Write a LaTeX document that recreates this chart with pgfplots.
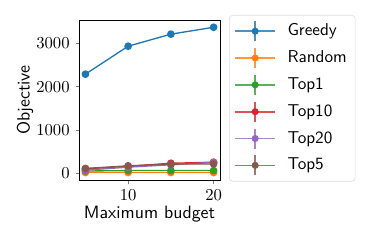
\documentclass[border=0pt]{standalone}
\usepackage{pgfplots}
\pgfplotsset{compat=1.18}
\definecolor{c0}{HTML}{1F77B4}
\definecolor{c1}{HTML}{FF7F0E}
\definecolor{c2}{HTML}{2CA02C}
\definecolor{c3}{HTML}{D62728}
\definecolor{c4}{HTML}{9467BD}
\definecolor{c5}{HTML}{8C564B}
\begin{document}
\begin{tikzpicture}
\begin{axis}[
  width=84.6pt, height=96pt, scale only axis,
  xmin=4.25, xmax=20.75, ymin=-169, ymax=3549,
  xtick={10,20}, ytick={0,1000,2000,3000},
  tick align=outside, tick pos=left,
  major tick length=2.1pt,
  scaled y ticks=false,
  tick label style={font=\fontsize{10.2}{12}\selectfont},
  yticklabel style={/pgf/number format/1000 sep={}},
  label style={font=\fontsize{10.7}{13}\selectfont\sffamily},
  xlabel={Maximum budget}, ylabel={Objective},
  xlabel style={yshift=3pt}, ylabel style={yshift=-5pt},
  every axis plot/.append style={line width=0.8pt, mark=*, mark size=1.9pt},
  legend cell align=left,
  legend style={at={(1,1)}, anchor=north west, xshift=5.4pt, yshift=3pt,
    draw=black!13, rounded corners=2pt, font=\fontsize{10.3}{12.4}\selectfont\sffamily,
    row sep=3.1pt, inner xsep=3pt, inner ysep=3pt},
  legend image code/.code={
    \draw[#1,mark=none,line width=1pt,opacity=0.8] (0pt,0pt) -- (24pt,0pt);
    \draw[#1,mark=none,line width=1pt,opacity=0.8] (12pt,-6pt) -- (12pt,6pt);
    \fill[#1] (12pt,0pt) circle (1.7pt);
    \path (29pt,0pt);
  },
]
\addplot[c0, mark options={fill=c0}] coordinates {(5,2290) (10,2940) (15,3220) (20,3380)};
\addlegendentry{Greedy}
\addplot[c1, mark options={fill=c1}] coordinates {(5,5) (10,5) (15,5) (20,5)};
\addlegendentry{Random}
\addplot[c2, mark options={fill=c2}] coordinates {(5,40) (10,50) (15,50) (20,50)};
\addlegendentry{Top1}
\addplot[c3, mark options={fill=c3}] coordinates {(5,90) (10,150) (15,220) (20,245)};
\addlegendentry{Top10}
\addplot[c4, mark options={fill=c4}] coordinates {(5,60) (10,130) (15,185) (20,240)};
\addlegendentry{Top20}
\addplot[c5, mark options={fill=c5}] coordinates {(5,100) (10,160) (15,200) (20,205)};
\addlegendentry{Top5}
\coordinate (sw) at (rel axis cs:0,0);
\coordinate (ne) at (rel axis cs:1,1);
\end{axis}
\path[use as bounding box] ([shift={(-47.4pt,-37.2pt)}]sw) rectangle ([shift={(94.2pt,12pt)}]ne);
\end{tikzpicture}
\end{document}
